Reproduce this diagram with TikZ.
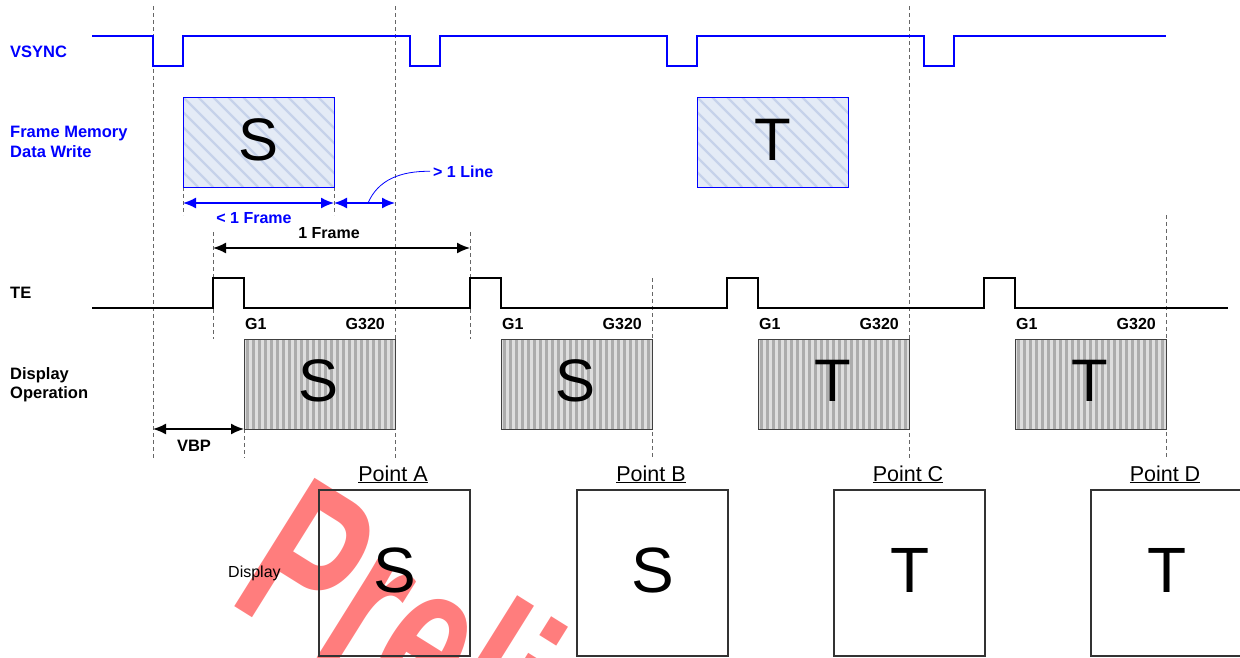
\documentclass[tikz,border=0pt]{standalone}
\usepackage{fontspec}
\setmainfont{Liberation Sans}
\usetikzlibrary{arrows.meta}
\definecolor{vblue}{RGB}{0,0,255}
\definecolor{memfill}{RGB}{228,235,246}
\definecolor{memline}{RGB}{198,210,234}
\definecolor{wmred}{RGB}{255,125,125}
\definecolor{oplight}{RGB}{222,222,222}
\definecolor{opdark}{RGB}{172,172,172}
\begin{document}
\begin{tikzpicture}[x=1pt,y=-1pt,
  lbl/.style={inner sep=0pt, anchor=base west, font=\fontsize{16.5}{19}\selectfont\bfseries},
  glbl/.style={inner sep=0pt, font=\fontsize{16}{18}\selectfont\bfseries},
  ptlbl/.style={inner sep=0pt, anchor=base, font=\fontsize{21.5}{24}\selectfont},
  bigS/.style={inner sep=0pt, font=\fontsize{60}{60}\selectfont},
  dispS/.style={inner sep=0pt, font=\fontsize{64}{64}\selectfont},
  wm/.style={inner sep=0pt, text=wmred, font=\fontsize{220}{220}\selectfont\bfseries},
  guide/.style={draw=black!60, line width=0.8pt, dash pattern=on 4pt off 3pt},
  dim/.style={{Latex[length=13pt,width=11pt]}-{Latex[length=13pt,width=11pt]}, line width=1.6pt},
  wave/.style={line width=2.5pt, line join=miter},
  membox/.style={draw=vblue, line width=0.9pt},
  opbox/.style={draw=black!75, line width=0.9pt},
  dispbox/.style={draw=black!80, line width=1.1pt}]
\useasboundingbox (0,0) rectangle (1240,657);

% watermark
\begin{scope}[shift={(226,601)}, rotate=-32, xscale=0.66]
  \node[wm, transform shape, anchor=base west] (wmark) at (0,0) {Preliminary};
\end{scope}

% guide lines
\draw[guide] (153,6) -- (153,458);
\draw[guide] (395,6) -- (395,458);
\draw[guide] (909,6) -- (909,458);
\draw[guide] (213,232) -- (213,339);
\draw[guide] (470,232) -- (470,339);
\draw[guide] (183,187) -- (183,215);
\draw[guide] (334,187) -- (334,215);
\draw[guide] (652,278) -- (652,458);
\draw[guide] (1166,215) -- (1166,458);
\draw[guide] (244,429) -- (244,458);

% VSYNC waveform
\draw[wave, vblue] (92,36) -- (153,36) -- (153,66) -- (183,66) -- (183,36)
  -- (410,36) -- (410,66) -- (440,66) -- (440,36)
  -- (667,36) -- (667,66) -- (697,66) -- (697,36)
  -- (924,36) -- (924,66) -- (954,66) -- (954,36) -- (1166,36);

% TE waveform
\draw[wave] (92,308) -- (213,308) -- (213,278) -- (244,278) -- (244,308)
  -- (470,308) -- (470,278) -- (501,278) -- (501,308)
  -- (727,308) -- (727,278) -- (758,278) -- (758,308)
  -- (984,308) -- (984,278) -- (1015,278) -- (1015,308) -- (1228,308);

% frame memory boxes
\foreach \x/\t/\n in {183/S/memS, 697/T/memT}{
  \fill[memfill] (\x,97) rectangle (\x+151,187);
  \begin{scope}
    \clip (\x,97) rectangle (\x+151,187);
    \foreach \i in {-90,-75,...,150}
      \draw[memline, line width=2.4pt] (\x+\i,97) -- (\x+\i+90,187);
  \end{scope}
  \draw[membox] (\x,97) rectangle (\x+151,187);
  \node[bigS] (\n) at (\x+76,140) {\t};
}

% display operation boxes
\foreach \x/\t/\n in {244/S/opA, 501/S/opB, 758/T/opC, 1015/T/opD}{
  \fill[oplight] (\x,339) rectangle (\x+151,429);
  \foreach \i in {0,...,24}
    \fill[opdark] (\x+\i*6+1.5,339) rectangle (\x+\i*6+4.5,429);
  \draw[opbox] (\x,339) rectangle (\x+151,429);
  \node[bigS] (\n) at (\x+74.5,381) {\t};
  \node[glbl, anchor=base west] (g1\n) at (\x+1,329) {G1};
  \node[glbl, anchor=base east] (g320\n) at (\x+141,329) {G320};
}

% display boxes
\foreach \x/\t/\p/\n in {319/S/A/dA, 577/S/B/dB, 834/T/C/dC, 1091/T/D/dD}{
  \draw[dispbox] (\x,490) rectangle (\x+151,656);
  \node[dispS] (\n) at (\x+76,570) {\t};
  \node[ptlbl] (pt\n) at (\x+74,481) {\underline{Point \p}};
}

% left labels
\node[lbl, text=vblue] (vsyncL) at (10,57) {VSYNC};
\node[lbl, text=vblue] (fmL1) at (10,137) {Frame Memory};
\node[lbl, text=vblue] (fmL2) at (10,157) {Data Write};
\node[lbl] (teL) at (10,298) {TE};
\node[lbl] (dopL1) at (10,379) {Display};
\node[lbl] (dopL2) at (10,398) {Operation};
\node[inner sep=0pt, anchor=base west, font=\fontsize{16}{18}\selectfont] (dispL) at (228,577) {Display};

% dimension arrows
\coordinate (m1) at (183,203);
\coordinate (m2) at (334,203);
\coordinate (m3) at (395,203);
\draw[dim, vblue] (m1) -- (m2);
\draw[dim, vblue] (m2) -- (m3);
\node[glbl, anchor=base, text=vblue] (ltFrame) at (254,223) {< 1 Frame};
\node[glbl, anchor=base west, text=vblue] (gtLine) at (433,177) {> 1 Line};
\coordinate (c1) at (368,203);
\draw[vblue, line width=0.8pt] (c1) .. controls (378,180) and (400,171) .. ([xshift=-3pt]gtLine.west);

\coordinate (f1) at (213,248);
\coordinate (f2) at (470,248);
\draw[dim] (f1) -- (f2);
\node[glbl, anchor=base] (oneFrame) at (329,238) {1 Frame};

\coordinate (v1) at (153,429);
\coordinate (v2) at (244,429);
\draw[dim] (v1) -- (v2);
\node[glbl, anchor=base, font=\fontsize{16.5}{18}\selectfont\bfseries] (vbpL) at (194,451) {VBP};
\end{tikzpicture}
\end{document}
